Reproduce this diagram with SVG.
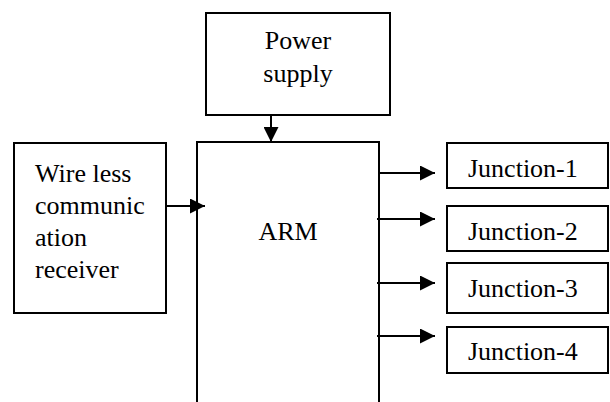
<svg xmlns="http://www.w3.org/2000/svg" width="610" height="402" viewBox="0 0 610 402">
<style>
.box{fill:#fff;stroke:#000;stroke-width:2}
.t{font-size:26px;fill:#000;font-family:'Liberation Serif','Times New Roman',serif}
.c{stroke:#000;stroke-width:2;fill:none}
</style>
<defs>
<marker id="ah" markerUnits="userSpaceOnUse" markerWidth="15" markerHeight="15" refX="15" refY="7.5" orient="auto">
<path d="M0,0 L15,7.5 L0,15 z" fill="#000"/>
</marker>
</defs>
<rect width="610" height="402" fill="#fff"/>
<g id="power">
<rect class="box" x="206" y="13" width="184" height="102"/>
<text class="t" x="298" y="49" text-anchor="middle">Power</text>
<text class="t" x="298" y="82" text-anchor="middle">supply</text>
</g>
<g id="arm">
<path class="c" d="M197,404 V142 H379 V404"/>
<text class="t" x="288" y="240" text-anchor="middle">ARM</text>
</g>
<g id="wireless">
<rect class="box" x="14" y="143" width="152" height="170"/>
<text class="t" x="35" y="182">Wire less</text>
<text class="t" x="35" y="214">communic</text>
<text class="t" x="35" y="246">ation</text>
<text class="t" x="35" y="278">receiver</text>
</g>
<g id="junction1">
<rect class="box" x="447" y="143" width="161" height="45"/>
<text class="t" x="468" y="177">Junction-1</text>
</g>
<g id="junction2">
<rect class="box" x="447" y="206" width="161" height="45"/>
<text class="t" x="468" y="240">Junction-2</text>
</g>
<g id="junction3">
<rect class="box" x="447" y="263" width="161" height="50"/>
<text class="t" x="468" y="297">Junction-3</text>
</g>
<g id="junction4">
<rect class="box" x="447" y="327" width="161" height="46"/>
<text class="t" x="468" y="360">Junction-4</text>
</g>
<g id="connectors">
<line class="c" x1="271" y1="115" x2="271" y2="142" marker-end="url(#ah)"/>
<line class="c" x1="166" y1="206" x2="205" y2="206" marker-end="url(#ah)"/>
<line class="c" x1="379" y1="173" x2="435" y2="173" marker-end="url(#ah)"/>
<line class="c" x1="377" y1="219" x2="435" y2="219" marker-end="url(#ah)"/>
<line class="c" x1="377" y1="283" x2="435" y2="283" marker-end="url(#ah)"/>
<line class="c" x1="377" y1="336" x2="435" y2="336" marker-end="url(#ah)"/>
</g>
</svg>
